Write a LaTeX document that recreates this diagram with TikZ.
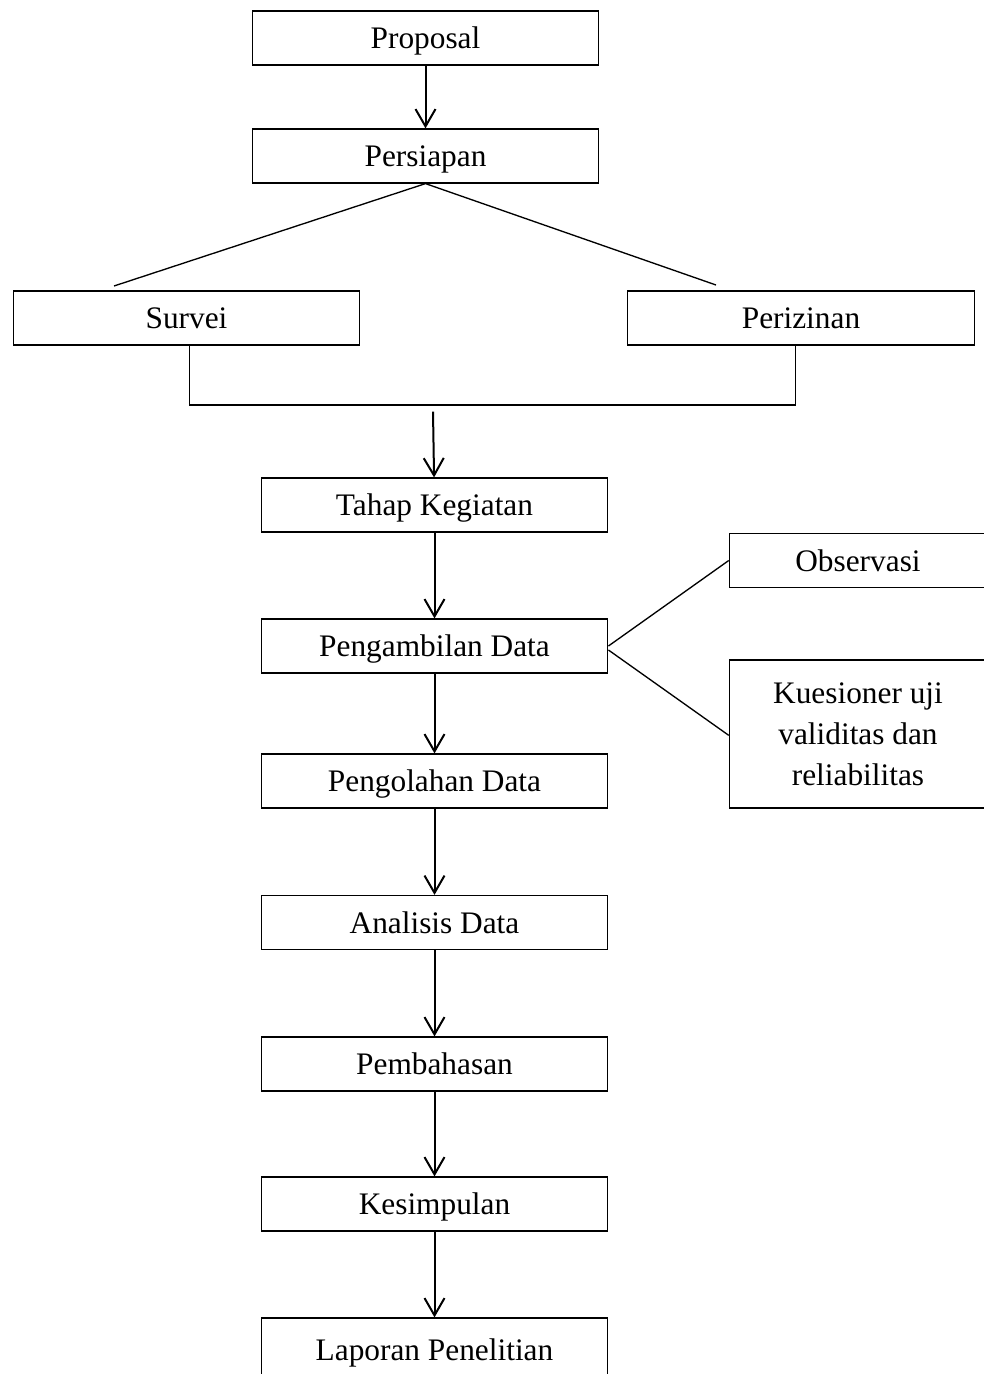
\documentclass[tikz,border=0pt]{standalone}
\usepackage{fontspec}
\setmainfont{Liberation Serif}
\usetikzlibrary{positioning, arrows.meta}

\begin{document}
\begin{tikzpicture}[
    x=0.75pt,
    y=-0.75pt,
    line width=0.9pt,
    >={Straight Barb[length=13pt, width=15pt]},
    proses/.style={rectangle, draw, minimum width=260pt, minimum height=40.5pt,
      inner sep=0pt, fill=white, align=center, text depth=0pt,
      font=\fontsize{23.5}{30.75}\selectfont},
    panah/.style={->, line width=1.5pt},
    cabang/.style={line width=1pt}
  ]

  % --- BATAS GAMBAR ---
  \clip (0,0) rectangle (984,1374);

  % --- POSISI KOTAK ---

  % Tahap awal
  \node[proses] (prop) at (425.5,38) {Proposal};
  \node[proses] (pers) at (425.5,156) {Persiapan};

  % Dua cabang persiapan
  \node[proses] (surv) at (186.5,318) {Survei};
  \node[proses] (periz) at (801,318) {Perizinan};

  % Alur utama
  \node[proses] (tahap) at (434.5,505) {Tahap Kegiatan};
  \node[proses] (ambil) at (434.5,646) {Pengambilan Data};
  \node[proses] (olah) at (434.5,781) {Pengolahan Data};
  \node[proses] (anal) at (434.5,922.5) {Analisis Data};
  \node[proses] (bahas) at (434.5,1064) {Pembahasan};
  \node[proses] (simp) at (434.5,1204) {Kesimpulan};
  \node[proses, minimum height=48pt] (lapor) at (434.5,1350) {Laporan Penelitian};

  % Cara pengambilan data
  \node[proses, minimum width=193pt] (obs) at (858,560.5) {Observasi};
  \node[proses, minimum width=193pt, minimum height=111pt] (kues) at (858,734)
    {Kuesioner uji\\ validitas dan\\ reliabilitas};

  % --- TITIK BANTU ---
  \coordinate (survatas) at (114,286);
  \coordinate (perizatas) at (716,285);
  \coordinate (gabung) at (433,405);

  % --- PENGHUBUNG ---

  % 1. Proposal ke persiapan
  \draw[panah] (prop) -- (pers);

  % 2. Persiapan bercabang
  \draw[cabang] (survatas) -- (pers.south) -- (perizatas);

  % 3. Survei dan perizinan digabung
  \draw ([xshift=2.5pt]surv.south) |- (gabung) -| ([xshift=-4pt]periz.south);
  \draw[panah] ([yshift=-5pt]gabung) -- (tahap);

  % 4. Alur utama
  \foreach \a/\b in {tahap/ambil, ambil/olah, olah/anal, anal/bahas, bahas/simp, simp/lapor}
    \draw[panah] (\a) -- (\b);

  % 5. Pengambilan data
  \draw[cabang] (ambil.east) -- (obs.west);
  \draw[cabang] ([yshift=-3pt]ambil.east) -- ([yshift=-1pt]kues.west);

\end{tikzpicture}
\end{document}
